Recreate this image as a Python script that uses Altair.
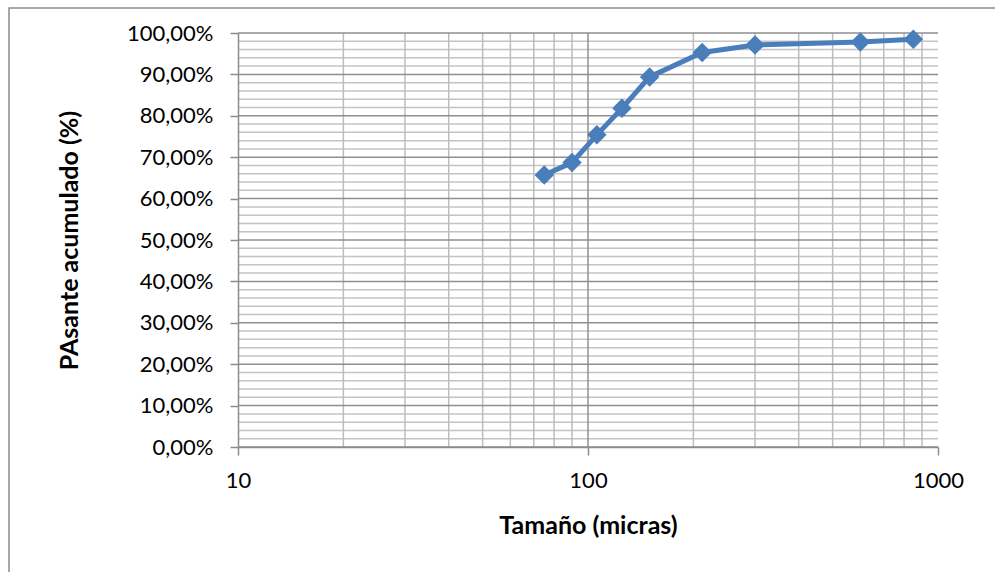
import altair as alt
import pandas as pd

# Data
tamano = [75, 90, 106, 125, 150, 212, 300, 600, 850]
pasante = [0.657, 0.687, 0.754, 0.818, 0.894, 0.953, 0.971, 0.978, 0.985]

y_major = [i / 10 for i in range(0, 11)]
y_minor = [i / 50 for i in range(0, 51) if i % 5 != 0]
x_minor = [20, 30, 40, 50, 60, 70, 80, 90, 200, 300, 400, 500, 600, 700, 800, 900]
x_major = [100]
x_ticks = [10, 100, 1000]

df = pd.DataFrame({"x": tamano, "y": pasante})
FONT = "Lato"

xs = alt.Scale(type="log", domain=[10, 1000], nice=False)
ys = alt.Scale(domain=[0, 1], nice=False)

x_axis = alt.Axis(
    values=x_ticks,
    title="Tamaño (micras)",
    labelExpr="format(datum.value, 'd')",
    grid=False,
    tickSize=8,
    labelPadding=15,
    titlePadding=22,
    labelFlush=False,
    zindex=1,
)
y_axis = alt.Axis(
    values=y_major,
    title="PAsante acumulado (%)",
    labelExpr="replace(format(datum.value * 100, '.2f'), '.', ',') + '%'",
    grid=False,
    tickSize=8,
    labelPadding=17,
    titlePadding=44,
    labelFlush=False,
    zindex=1,
)

X = lambda: alt.X("x:Q", scale=xs, axis=x_axis)
Y = lambda: alt.Y("y:Q", scale=ys, axis=y_axis)

ymin = alt.Chart(pd.DataFrame({"y": y_minor})).mark_rule(color="#c4c4c4", strokeWidth=1.5).encode(y=Y())
ymaj = alt.Chart(pd.DataFrame({"y": y_major})).mark_rule(color="#8f8f8f", strokeWidth=1.5).encode(y=Y())
xmin = alt.Chart(pd.DataFrame({"x": x_minor})).mark_rule(color="#bdbdbd", strokeWidth=1.5).encode(x=X())
xmaj = alt.Chart(pd.DataFrame({"x": x_major})).mark_rule(color="#8f8f8f", strokeWidth=1.5).encode(x=X())

border = alt.Chart(pd.DataFrame({"a": [0]})).mark_rect(
    fill=None, stroke="#8c8c8c", strokeWidth=1.5
).encode(
    x=alt.value(-229), x2=alt.value(900), y=alt.value(-25), y2=alt.value(700)
)

line = alt.Chart(df).mark_line(color="#4a7ebb", strokeWidth=5).encode(x=X(), y=Y())
points = alt.Chart(df).mark_point(
    shape="diamond", filled=True, color="#4a7ebb", size=380, opacity=1
).encode(x=X(), y=Y())

chart = (
    alt.layer(ymin, xmin, ymaj, xmaj, line, points, border)
    .properties(
        width=700,
        height=414,
        autosize=alt.AutoSizeParams(type="none"),
        padding={"left": 238, "top": 33, "right": 57, "bottom": 125},
    )
    .configure_view(stroke=None)
    .configure_axis(
        domainColor="#8c8c8c",
        domainWidth=1.5,
        tickColor="#8c8c8c",
        tickWidth=1.5,
        labelFont=FONT,
        titleFont=FONT,
        labelFontSize=22,
        titleFontSize=25,
        labelColor="#000000",
        titleColor="#000000",
        titleFontWeight="bold",
    )
)

chart.save("out.html", embed_options={"renderer": "svg", "actions": False})
